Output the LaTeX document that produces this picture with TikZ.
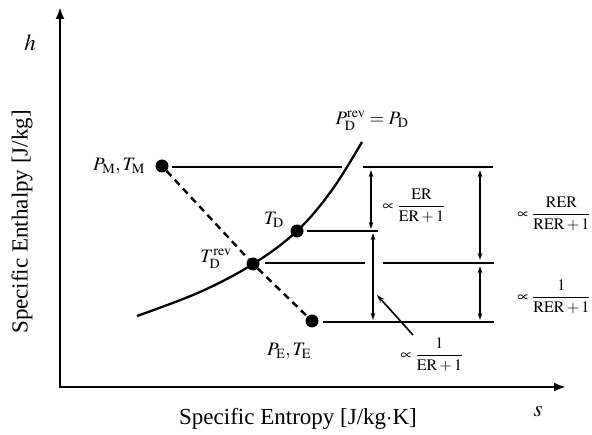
\documentclass[tikz,border=0pt]{standalone}
\usepackage{amsmath}
\usepackage{mathptmx}
\usepackage[no-math]{fontspec}
\setmainfont{Liberation Serif}
\usetikzlibrary{arrows.meta}
\tikzset{
  axis/.style={line width=2.8pt,{Latex[length=12pt,width=9pt]}-{Latex[length=12pt,width=9pt]}},
  level/.style={line width=2.2pt},
  dashedline/.style={line width=2.4pt,dash pattern=on 7pt off 5pt},
  curveline/.style={line width=2.3pt},
  dotmark/.style={circle,fill=black,inner sep=0pt,minimum size=13pt},
  dim/.style={line width=1.6pt,{Stealth[length=7pt,width=4.5pt]}-{Stealth[length=7pt,width=4.5pt]}},
  pointer/.style={line width=1.6pt,-{Stealth[length=8pt,width=5pt]}},
  axlabel/.style={font=\fontsize{23}{27}\selectfont,inner sep=0pt},
  mlabel/.style={font=\fontsize{19}{22}\selectfont,inner sep=0pt},
  flabel/.style={font=\fontsize{16}{19}\selectfont,inner sep=0pt}
}
\begin{document}
\begin{tikzpicture}[x=1pt,y=-1pt]
\useasboundingbox (0,0) rectangle (592,435);
% axes
\coordinate (ytop) at (60,7);
\coordinate (origin) at (60,387);
\coordinate (xend) at (566,387);
\draw[axis] (ytop) |- (xend);
\node[axlabel] (hlab) at (30,43) {$h$};
\node[axlabel] (slab) at (538,412) {$s$};
\node[axlabel] (xlab) at (298,419) {Specific Entropy [J/kg$\cdot$K]};
\node[axlabel,rotate=90] (ylab) at (22,222) {Specific Enthalpy [J/kg]};
% isobar curve
\node[dotmark] (M) at (162,166) {};
\node[dotmark] (Drev) at (253,264) {};
\node[dotmark] (D) at (297,231) {};
\node[dotmark] (E) at (312,321) {};
\coordinate (c0) at (137,316);
\coordinate (c1) at (362,142);
\draw[curveline] plot[smooth,tension=0.6] coordinates {(c0) (200,292) (Drev) (D) (332,190) (c1)};
\draw[dashedline] (M) -- (Drev) -- (E);
% level lines
\coordinate (m1) at (172,167); \coordinate (m2) at (342,167);
\coordinate (m3) at (363,167); \coordinate (m4) at (493,167);
\coordinate (d1) at (307,231); \coordinate (d2) at (378,231);
\coordinate (r1) at (265,263); \coordinate (r2) at (365,263);
\coordinate (r3) at (383,263); \coordinate (r4) at (494,263);
\coordinate (e1) at (323,322); \coordinate (e2) at (494,322);
\draw[level] (m1) -- (m2) (m3) -- (m4) (d1) -- (d2) (r1) -- (r2) (r3) -- (r4) (e1) -- (e2);
% dimension arrows
\coordinate (a1t) at (371,170); \coordinate (a1b) at (371,229);
\coordinate (a2t) at (373,233); \coordinate (a2b) at (373,320);
\coordinate (a3t) at (480,170); \coordinate (a3b) at (480,260);
\coordinate (a4t) at (480,266); \coordinate (a4b) at (480,320);
\draw[dim] (a1t) -- (a1b);
\draw[dim] (a2t) -- (a2b);
\draw[dim] (a3t) -- (a3b);
\draw[dim] (a4t) -- (a4b);
% labels
\node[mlabel,anchor=east] (Mlab) at (145,166) {$P_{\mathrm{M}},T_{\mathrm{M}}$};
\node[mlabel] (Dlab) at (274,220) {$T_{\mathrm{D}}$};
\node[mlabel] (Drevlab) at (216,259) {$T_{\mathrm{D}}^{\mathrm{rev}}$};
\node[mlabel] (Elab) at (289,351) {$P_{\mathrm{E}},T_{\mathrm{E}}$};
\node[mlabel] (Plab) at (372,121) {$P_{\mathrm{D}}^{\mathrm{rev}}=P_{\mathrm{D}}$};
\node[flabel] (f1) at (414,206) {$\propto\dfrac{\mathrm{ER}}{\mathrm{ER}+1}$};
\node[flabel] (f2) at (554,214) {$\propto\dfrac{\mathrm{RER}}{\mathrm{RER}+1}$};
\node[flabel] (f3) at (554,297) {$\propto\dfrac{1}{\mathrm{RER}+1}$};
\node[flabel] (f4) at (432,355) {$\propto\dfrac{1}{\mathrm{ER}+1}$};
\coordinate (p0) at (413,335);
\coordinate (p1) at (377,295);
\draw[pointer] (p0) -- (p1);
\end{tikzpicture}
\end{document}
